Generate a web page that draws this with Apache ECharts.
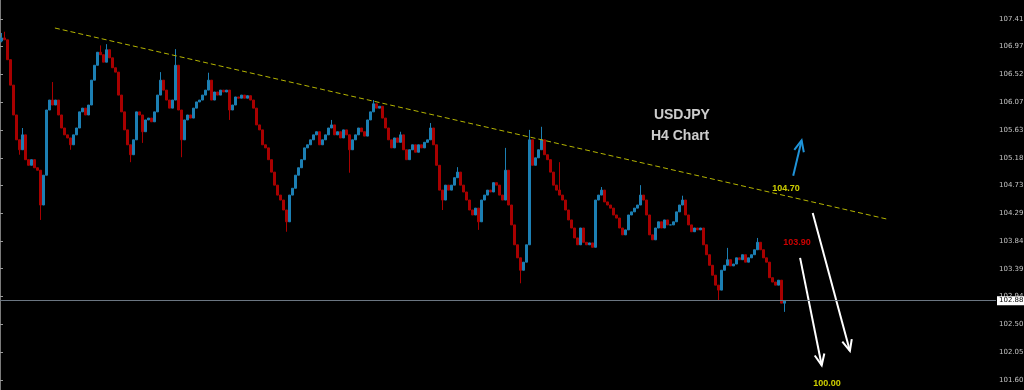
<!DOCTYPE html>
<html>
<head>
<meta charset="utf-8">
<script src="https://cdn.jsdelivr.net/npm/echarts@6/dist/echarts.min.js"></script>
<style>
html,body{margin:0;padding:0;background:#000;}
#chart{width:1024px;height:390px;}
</style>
</head>
<body>
<div id="chart"></div>
<script>
// ---- data ----
const slotCount = 332; // price bars + right-hand empty chart shift
const firstOpen = 107.06;
const closes = [
107.11,107.08,106.76,106.35,105.87,105.47,105.31,105.55,105.15,105.06,
105.15,105.02,104.98,104.42,104.90,105.95,106.11,106.03,106.11,105.87,
105.66,105.55,105.50,105.39,105.55,105.66,105.92,105.98,105.87,106.03,
106.43,106.67,106.88,106.84,106.72,106.92,106.79,106.63,106.56,106.19,
105.92,105.63,105.39,105.23,105.47,105.92,105.87,105.60,105.79,105.82,
105.76,105.92,106.19,106.43,106.27,106.11,105.98,106.11,106.67,105.95,
105.47,105.79,105.87,105.82,105.98,106.08,106.11,106.19,106.27,106.43,
106.11,106.24,106.19,106.27,106.24,106.27,105.95,106.03,106.16,106.14,
106.19,106.14,106.18,106.11,105.98,105.71,105.63,105.39,105.34,105.15,
104.95,104.74,104.58,104.50,104.34,104.15,104.58,104.69,104.90,105.02,
105.15,105.34,105.39,105.47,105.55,105.60,105.39,105.47,105.55,105.66,
105.71,105.55,105.60,105.50,105.63,105.55,105.31,105.47,105.55,105.66,
105.60,105.53,105.79,105.92,106.05,105.98,106.01,105.82,105.66,105.47,
105.34,105.50,105.43,105.55,105.31,105.15,105.31,105.39,105.27,105.39,
105.34,105.43,105.47,105.66,105.39,105.06,104.66,104.50,104.74,104.66,
104.74,104.86,104.95,104.74,104.63,104.50,104.34,104.26,104.37,104.15,
104.50,104.58,104.66,104.63,104.78,104.74,104.58,104.50,104.98,104.42,
104.10,103.78,103.57,103.37,103.50,103.78,105.47,105.06,105.18,105.31,
105.47,105.23,105.15,104.95,104.74,104.66,104.58,104.50,104.34,104.18,
104.05,103.89,103.78,104.05,103.82,103.78,103.81,103.74,104.50,104.58,
104.66,104.47,104.42,104.37,104.26,104.21,104.05,103.94,104.02,104.26,
104.31,104.37,104.42,104.58,104.50,104.26,103.94,103.86,104.05,104.15,
104.05,104.18,104.10,104.10,104.15,104.31,104.42,104.50,104.26,104.10,
103.99,104.05,104.02,104.05,103.78,103.62,103.45,103.29,103.13,103.05,
103.37,103.45,103.54,103.44,103.47,103.57,103.54,103.62,103.50,103.57,
103.62,103.70,103.82,103.70,103.57,103.50,103.25,103.18,103.13,103.21,
102.84,102.88
];
// [bar index, high] and [bar index, low] for wicks that reach past the body
const wickHighs = [[0,107.19],[1,107.21],[7,105.66],[17,106.40],[33,106.99],[35,107.01],[53,106.56],[58,106.93],[69,106.55],[110,105.79],[124,106.11],[133,105.60],[143,105.74],[152,105.03],[168,105.34],[176,105.63],[180,105.68],[186,105.11],[200,104.71],[213,104.74],[227,104.57],[242,103.73],[252,103.89]];
const wickLows = [[0,107.04],[6,105.23],[13,104.18],[23,105.31],[43,105.11],[47,105.42],[60,105.19],[76,105.79],[95,103.99],[116,104.94],[147,104.34],[159,104.02],[173,103.16],[239,102.89],[261,102.70]];

const priceTicks = [107.415,106.970,106.520,106.075,105.630,105.180,104.735,104.290,103.840,103.395,102.945,102.500,102.055,101.605];
const currentPrice = 102.882;
const priceMin = 101.442, priceMax = 107.721;

// trend line endpoints [slot position, price]
const trendLine = [[18.3,107.27],[296.0,104.19]];
// arrows [fromSlot, fromPrice, toSlot, toPrice]
const upArrows = [[264.4,104.89,267.2,105.46]];
const downArrows = [[266.7,103.57,273.9,101.84],[270.9,104.29,283.3,102.07]];
// annotations [text, slot, price]
const titleNotes = [['USDJPY',227.3,105.87],['H4 Chart',226.7,105.53]];
const yellowNotes = [['104.70',262.0,104.68],['100.00',275.7,101.55]];
const redNotes = [['103.90',265.7,103.82]];

// ---- build ----
const categories = [];
for (let i = 0; i < slotCount; i++) categories.push(String(i));
const hiMap = new Map(wickHighs), loMap = new Map(wickLows);
const candles = closes.map((c, i) => {
  const o = i === 0 ? firstOpen : closes[i - 1];
  const lo = loMap.has(i) ? loMap.get(i) : Math.min(o, c);
  const hi = hiMap.has(i) ? hiMap.get(i) : Math.max(o, c);
  return [o, c, lo, hi];
});

function arrowRender(color) {
  return function (params, api) {
    const t = api.coord([api.value(0), api.value(1)]);
    const h = api.coord([api.value(2), api.value(3)]);
    const ang = Math.atan2(t[1] - h[1], t[0] - h[0]);
    const L = 12, spread = 0.42;
    const a1 = [h[0] + L * Math.cos(ang + spread), h[1] + L * Math.sin(ang + spread)];
    const a2 = [h[0] + L * Math.cos(ang - spread), h[1] + L * Math.sin(ang - spread)];
    return {
      type: 'group',
      children: [
        {type: 'line', shape: {x1: t[0], y1: t[1], x2: h[0], y2: h[1]}, style: {stroke: color, lineWidth: 2}},
        {type: 'polyline', shape: {points: [a1, h, a2]}, style: {stroke: color, lineWidth: 2, fill: null}}
      ]
    };
  };
}
function noteSeries(list, style) {
  return {
    type: 'scatter', xAxisIndex: 1, yAxisIndex: 0, symbolSize: 0, silent: true, z: 10,
    data: list.map(n => ({value: [n[1], n[2]], name: n[0]})),
    label: Object.assign({show: true, position: 'inside', formatter: p => p.name}, style)
  };
}

const chart = echarts.init(document.getElementById('chart'), null, {renderer: 'canvas'});
chart.setOption({
  backgroundColor: '#000000',
  animation: false,
  grid: {left: 0, right: 28, top: 0, bottom: 0, containLabel: false, outerBoundsMode: 'none'},
  xAxis: [
    {type: 'category', data: categories, show: false, boundaryGap: true},
    {type: 'value', min: 0, max: slotCount, show: false}
  ],
  yAxis: {
    type: 'value', position: 'right', min: priceMin, max: priceMax,
    axisLine: {show: true, lineStyle: {color: '#7a7a7a', width: 1}},
    axisTick: {show: true, customValues: priceTicks, length: 3, lineStyle: {color: '#9a9a9a'}},
    axisLabel: {show: true, customValues: priceTicks, formatter: v => v.toFixed(3), color: '#c4c4c4', fontSize: 7, fontFamily: 'DejaVu Sans', margin: 3, hideOverlap: false},
    splitLine: {show: false}
  },
  series: [
    {
      type: 'candlestick', xAxisIndex: 0, yAxisIndex: 0, data: candles, barWidth: 2,
      itemStyle: {color: '#1c7fb3', color0: '#a80000', borderColor: '#1c7fb3', borderColor0: '#a80000', borderWidth: 1},
      markLine: {
        silent: true, symbol: 'none', animation: false,
        data: [{yAxis: currentPrice}],
        lineStyle: {color: '#6b7682', type: 'solid', width: 1},
        label: {position: 'end', distance: 1, formatter: () => currentPrice.toFixed(3), color: '#000', backgroundColor: '#ffffff', padding: [1, 2, 1, 2], fontSize: 7, fontFamily: 'DejaVu Sans'}
      }
    },
    {
      type: 'line', xAxisIndex: 1, yAxisIndex: 0, data: trendLine, symbol: 'none', silent: true,
      lineStyle: {color: '#b4b400', width: 1, type: [5, 3]}
    },
    {
      type: 'custom', xAxisIndex: 1, yAxisIndex: 0, data: upArrows, silent: true,
      encode: {x: [0, 2], y: [1, 3]}, renderItem: arrowRender('#1f93d8')
    },
    {
      type: 'custom', xAxisIndex: 1, yAxisIndex: 0, data: downArrows, silent: true,
      encode: {x: [0, 2], y: [1, 3]}, renderItem: arrowRender('#ffffff')
    },
    noteSeries(titleNotes, {color: '#ffffff', fontSize: 14, fontWeight: 'bold', fontFamily: 'Liberation Sans'}),
    noteSeries(yellowNotes, {color: '#ffff00', fontSize: 9, fontWeight: 'bold', fontFamily: 'Liberation Sans'}),
    noteSeries(redNotes, {color: '#ff0000', fontSize: 9, fontWeight: 'bold', fontFamily: 'Liberation Sans'})
  ]
});
</script>
</body>
</html>
